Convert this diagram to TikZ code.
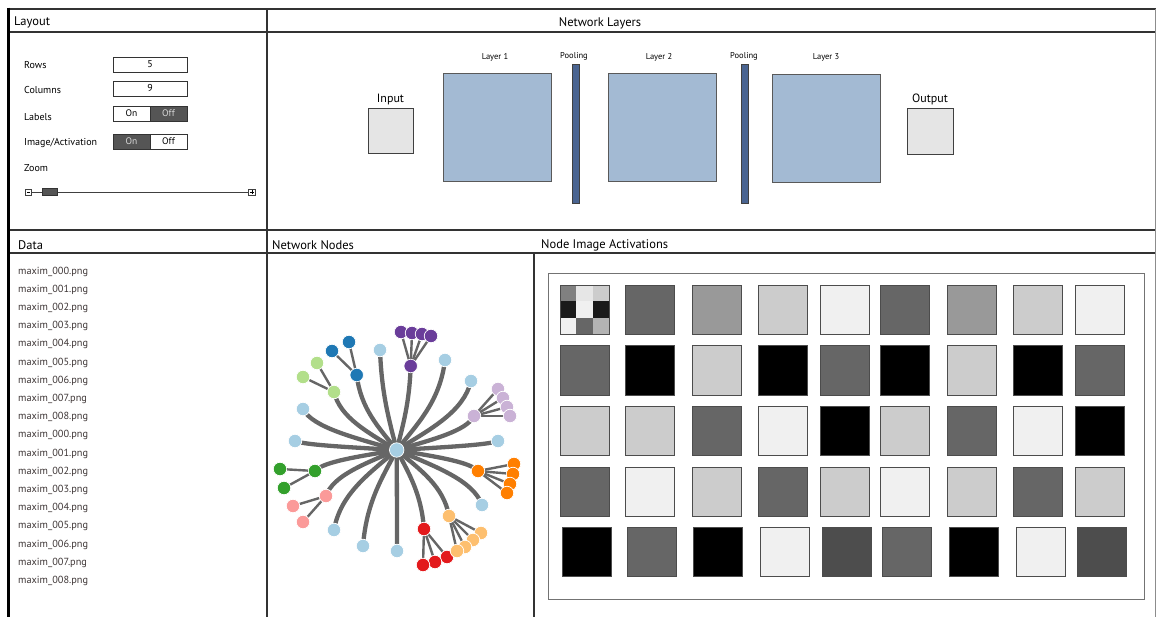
\documentclass[tikz,border=0pt]{standalone}
\usepackage{fontspec}
\setmainfont{PT Sans}
\usetikzlibrary{calc,backgrounds}
\definecolor{g1}{HTML}{F0F0F0}
\definecolor{g2}{HTML}{CCCCCC}
\definecolor{g3}{HTML}{999999}
\definecolor{g4}{HTML}{666666}
\definecolor{g5}{HTML}{4D4D4D}
\definecolor{kk}{HTML}{000000}
\definecolor{lb}{HTML}{A6CEE3}
\definecolor{db}{HTML}{1F78B4}
\definecolor{lg}{HTML}{B2DF8A}
\definecolor{dg}{HTML}{33A02C}
\definecolor{pk}{HTML}{FB9A99}
\definecolor{rd}{HTML}{E31A1C}
\definecolor{lo}{HTML}{FDBF6F}
\definecolor{orr}{HTML}{FF7F00}
\definecolor{lv}{HTML}{CAB2D6}
\definecolor{pu}{HTML}{6A3D9A}
\definecolor{layerfill}{HTML}{A3BAD3}
\definecolor{poolfill}{HTML}{4A6491}
\definecolor{filecol}{HTML}{3D3535}
\definecolor{tdark}{HTML}{555555}
\definecolor{edgecol}{HTML}{666666}
\newcommand{\mainedge}[1]{%
  \draw[medge] let \p1=(C.center), \p2=(#1.center) in
    (\p1) .. controls ({\x1+0.45*(\x2-\x1)},{\y1+0.3*(\y2-\y1)})
    and ({\x2-0.1*(\x2-\x1)},{\y2-0.45*(\y2-\y1)}) .. (\p2);}
\begin{document}
\begin{tikzpicture}[x=1pt,y=-1pt,
  pline/.style={line width=1.3pt,draw=black!80},
  hdr/.style={anchor=west,inner sep=0,font=\fontsize{12.5}{15}\selectfont},
  lbl/.style={anchor=west,inner sep=0,font=\fontsize{10}{12}\selectfont},
  file/.style={anchor=west,inner sep=0,text=filecol,font=\fontsize{10.3}{12}\selectfont},
  inbox/.style={draw=black!80,line width=0.8pt,minimum width=74,minimum height=15,inner sep=0,font=\fontsize{10}{12}\selectfont},
  tgl/.style={draw=black!80,line width=0.8pt,minimum width=37,minimum height=15,inner sep=0,font=\fontsize{9.5}{11}\selectfont},
  tglon/.style={tgl,fill=tdark,text=white!85!black},
  small/.style={inner sep=0,font=\fontsize{8.5}{10}\selectfont},
  mid/.style={inner sep=0,font=\fontsize{12}{14}\selectfont},
  layerbox/.style={draw=black!65,line width=1pt,fill=layerfill,minimum size=108,inner sep=0},
  poolbar/.style={draw=black!75,line width=0.8pt,fill=poolfill,minimum width=7,minimum height=139,inner sep=0},
  iobox/.style={draw=black!75,line width=1pt,fill=black!10,minimum size=45,inner sep=0},
  sq/.style={draw=black!70,line width=0.9pt,minimum size=49,inner sep=0,anchor=north west},
  gn/.style={circle,minimum size=13.5,inner sep=0,draw=white,line width=0.7pt},
  medge/.style={draw=edgecol,line width=4.3pt},
  sedge/.style={draw=edgecol,line width=2.4pt}]
\useasboundingbox (0,0) rectangle (1156,617);

% ---------- frame ----------
\draw[pline] (8,9) -- (1156,9);
\draw[pline] (8,32) -- (1156,32);
\draw[pline] (8,230) -- (1156,230);
\draw[pline] (8,253) -- (1156,253);
\draw[pline] (267,9) -- (267,617);
\draw[pline] (534,253) -- (534,617);
\draw[line width=3pt,draw=black] (8,7.7) -- (8,617);
\draw[line width=0.8pt,draw=black!45] (1155,9) -- (1155,617);

% ---------- headers ----------
\node[hdr] (hLayout) at (14,22) {Layout};
\node[hdr,anchor=center] (hNet) at (600,23.5) {Network Layers};
\node[hdr] (hData) at (18,245) {Data};
\node[hdr] (hNodes) at (272,245) {Network Nodes};
\node[hdr] (hAct) at (541,245) {Node Image Activations};

% ---------- layout panel ----------
\node[lbl] (tRows) at (24,65.5) {Rows};
\node[inbox] (bRows) at (150,64.5) {5};
\node[lbl] (tCols) at (24,90.5) {Columns};
\node[inbox] (bCols) at (150,88.5) {9};
\node[lbl] (tLab) at (24,117) {Labels};
\node[tgl] (labOn) at (131.5,113.5) {On};
\node[tglon] (labOff) at (168.5,113.5) {Off};
\node[lbl] (tImg) at (24,143) {Image/Activation};
\node[tglon] (imgOn) at (131.5,141.5) {On};
\node[tgl] (imgOff) at (168.5,141.5) {Off};
\node[lbl] (tZoom) at (24,168.5) {Zoom};
\node[draw=black!75,line width=0.6pt,minimum size=5.5,inner sep=0] (zMinus) at (28.5,192.3) {};
\node[draw=black!75,line width=0.6pt,minimum size=6.5,inner sep=0] (zPlus) at (251.8,192.3) {};
\draw[line width=0.9pt,black!75] (zMinus) -- (zPlus);
\node[draw=black!80,fill=tdark,line width=0.6pt,minimum width=15,minimum height=6.5,inner sep=0] (zThumb) at (49.5,192) {};
\draw[line width=0.5pt] ([xshift=-1.5pt]zMinus.center) -- ([xshift=1.5pt]zMinus.center);
\draw[line width=0.5pt] ([xshift=-2pt]zPlus.center) -- ([xshift=2pt]zPlus.center)
  ([yshift=-2pt]zPlus.center) -- ([yshift=2pt]zPlus.center);

% ---------- network layers ----------
\node[iobox] (input) at (390.5,131.5) {};
\node[mid] (tInput) at (390.5,99.5) {Input};
\node[layerbox] (layer1) at (497,128) {};
\node[small] (tL1) at (495,57) {Layer 1};
\node[poolbar] (pool1) at (575.5,133.5) {};
\node[small] (tP1) at (574,56) {Pooling};
\node[layerbox] (layer2) at (662,128) {};
\node[small] (tL2) at (659,57) {Layer 2};
\node[poolbar] (pool2) at (744.5,133.5) {};
\node[small] (tP2) at (744,56) {Pooling};
\node[layerbox] (layer3) at (826.5,129) {};
\node[small] (tL3) at (826,57) {Layer 3};
\node[iobox,minimum size=46] (output) at (930,132) {};
\node[mid] (tOutput) at (930,99.5) {Output};

% ---------- data list ----------
\foreach \n [count=\i from 0] in {000,001,002,003,004,005,006,007,008,000,001,002,003,004,005,006,007,008}
  \node[file] (f\i) at (18,{271.5+\i*18.2}) {maxim\_\n.png};

% ---------- network nodes graph ----------
\node[gn,fill=lb,minimum size=14.5] (C) at (396.7,450) {};
\node[gn,fill=lb] (L1) at (380,350) {};
\node[gn,fill=lb] (L2) at (445,360) {};
\node[gn,fill=lb] (L3) at (471,381) {};
\node[gn,fill=lb] (L4) at (303,409) {};
\node[gn,fill=lb] (L5) at (295,441) {};
\node[gn,fill=lb] (L6) at (498,441) {};
\node[gn,fill=lb] (L7) at (482,505) {};
\node[gn,fill=lb] (L8) at (334,530) {};
\node[gn,fill=lb] (L9) at (363,546) {};
\node[gn,fill=lb] (L10) at (397,551) {};
% groups
\node[gn,fill=pu] (PU) at (410.7,366) {};
\node[gn,fill=pu] (pu1) at (401,332) {};
\node[gn,fill=pu] (pu2) at (412,333) {};
\node[gn,fill=pu] (pu3) at (422,334) {};
\node[gn,fill=pu] (pu4) at (431,336) {};
\node[gn,fill=db] (DB) at (356.7,375) {};
\node[gn,fill=db] (db1) at (332,351) {};
\node[gn,fill=db] (db2) at (349,342) {};
\node[gn,fill=lg] (LG) at (334,392) {};
\node[gn,fill=lg] (lg1) at (317,363) {};
\node[gn,fill=lg] (lg2) at (303,377) {};
\node[gn,fill=lv] (LV) at (474,416) {};
\node[gn,fill=lv] (lv1) at (498,389) {};
\node[gn,fill=lv] (lv2) at (503,398) {};
\node[gn,fill=lv] (lv3) at (507,407) {};
\node[gn,fill=lv] (lv4) at (510,416) {};
\node[gn,fill=dg] (DG) at (315,471) {};
\node[gn,fill=dg] (dg1) at (280,469) {};
\node[gn,fill=dg] (dg2) at (284,488) {};
\node[gn,fill=pk] (PK) at (326,496) {};
\node[gn,fill=pk] (pk1) at (293,506) {};
\node[gn,fill=pk] (pk2) at (303,522) {};
\node[gn,fill=orr] (OR) at (478,471) {};
\node[gn,fill=orr] (or1) at (514,464) {};
\node[gn,fill=orr] (or2) at (513,474) {};
\node[gn,fill=orr] (or3) at (510,484) {};
\node[gn,fill=orr] (or4) at (507,493) {};
\node[gn,fill=rd] (RD) at (424,529) {};
\node[gn,fill=rd] (rd3) at (447,557) {};
\node[gn,fill=rd] (rd2) at (435,562) {};
\node[gn,fill=rd] (rd1) at (423,565) {};
\node[gn,fill=lo] (LO) at (449,516) {};
\node[gn,fill=lo] (lo4) at (481,533) {};
\node[gn,fill=lo] (lo3) at (473,540) {};
\node[gn,fill=lo] (lo2) at (465,547) {};
\node[gn,fill=lo] (lo1) at (457,551) {};

\begin{pgfonlayer}{background}
\foreach \t in {L1,L2,L3,L4,L5,L6,L7,L8,L9,L10,PU,DB,LG,LV,DG,PK,OR,RD,LO}
  {\mainedge{\t}}
\foreach \p/\c in {PU/pu1,PU/pu2,PU/pu3,PU/pu4,DB/db1,DB/db2,LG/lg1,LG/lg2,
  LV/lv1,LV/lv2,LV/lv3,LV/lv4,DG/dg1,DG/dg2,PK/pk1,PK/pk2,OR/or1,OR/or2,OR/or3,OR/or4,
  RD/rd1,RD/rd2,RD/rd3,LO/lo1,LO/lo2,LO/lo3,LO/lo4}
  \draw[sedge] (\p.center) -- (\c.center);
\end{pgfonlayer}

% ---------- activations ----------
\node[draw=black!55,line width=1pt,minimum width=596,minimum height=326,inner sep=0,anchor=north west] (actframe) at (548,273) {};
% row 1
\node[sq] (s11) at (560,285) {};
\foreach \cx/\cy/\cc in {0/0/808080,1/0/E6E6E6,2/0/CCCCCC,0/1/1A1A1A,1/1/F0F0F0,2/1/1A1A1A,0/2/F0F0F0,1/2/666666,2/2/B3B3B3}
  {\definecolor{cellc}{HTML}{\cc}
   \fill[cellc] ($(s11.north west)+(\cx*16.33,\cy*16.33)$) rectangle ++(16.33,16.33);}
\draw[black!70,line width=0.9pt] (s11.north west) rectangle (s11.south east);
\foreach \i/\x/\col in {2/625/g4,3/692/g3,4/758/g2,5/820/g1,6/880/g4,7/947/g3,8/1013/g2,9/1075/g1}
  \node[sq,fill=\col] (s1\i) at (\x,285) {};
\foreach \i/\x/\col in {1/560/g4,2/625/kk,3/692/g2,4/758/kk,5/820/g4,6/880/kk,7/947/g2,8/1013/kk,9/1075/g4}
  \node[sq,fill=\col] (s2\i) at (\x,345.5) {};
\foreach \i/\x/\col in {1/560/g2,2/625/g2,3/692/g4,4/758/g1,5/820/kk,6/880/g2,7/947/g4,8/1013/g1,9/1075/kk}
  \node[sq,fill=\col] (s3\i) at (\x,406) {};
\foreach \i/\x/\col in {1/560/g4,2/625/g1,3/692/g2,4/758/g4,5/820/g2,6/880/g1,7/947/g2,8/1013/g4,9/1075/g2}
  \node[sq,fill=\col] (s4\i) at (\x,466.5) {};
\foreach \i/\x/\col in {1/562/kk,2/627/g4,3/693/kk,4/760/g1,5/822/g5,6/882/g4,7/949/kk,8/1016/g1,9/1077/g5}
  \node[sq,fill=\col] (s5\i) at (\x,527) {};
\end{tikzpicture}
\end{document}
